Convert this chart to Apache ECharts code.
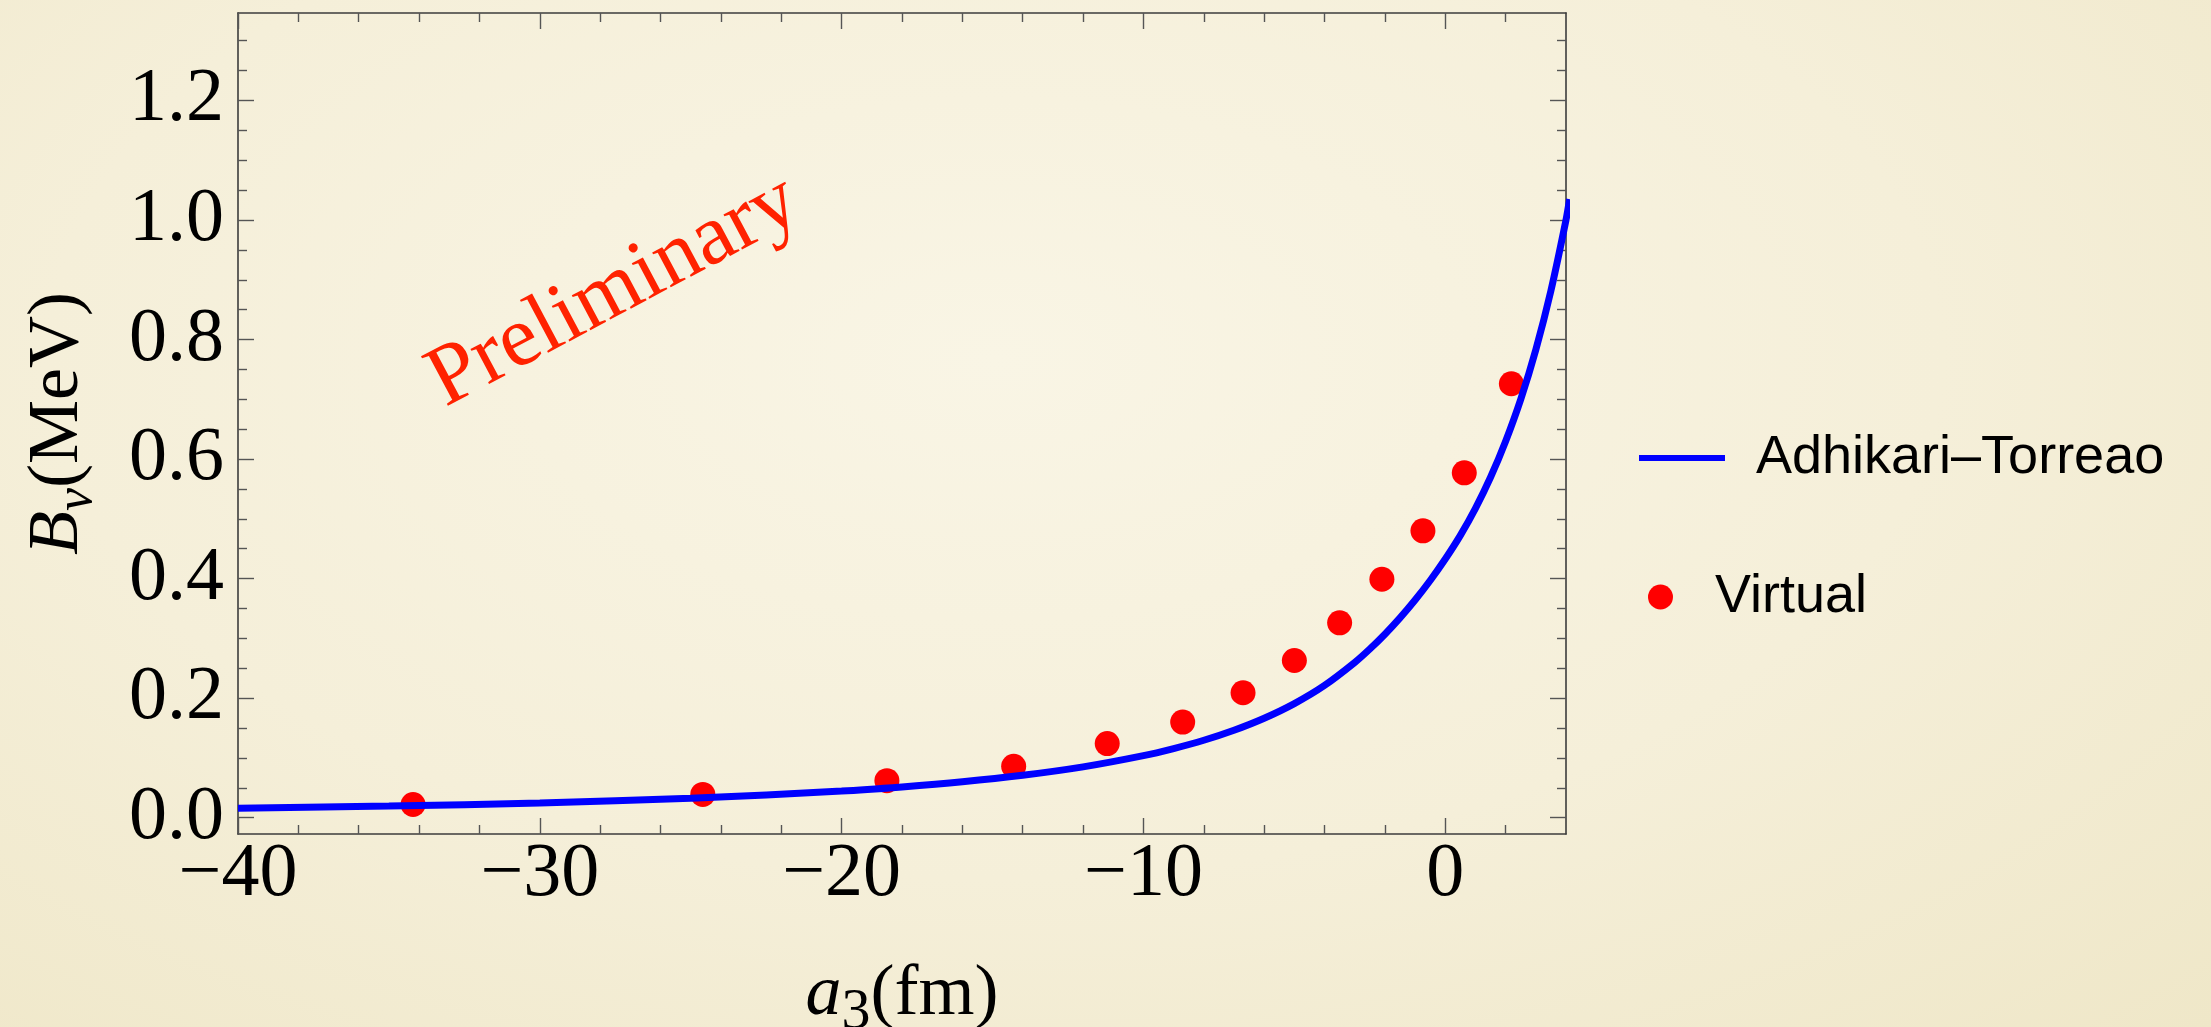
<!DOCTYPE html>
<html>
<head>
<meta charset="utf-8">
<title>B_v vs a_3</title>
<script src="https://cdn.jsdelivr.net/npm/echarts@6/dist/echarts.min.js"></script>
<style>
  html, body {
    margin: 0;
    padding: 0;
    width: 2211px;
    height: 1027px;
    overflow: hidden;
    background: radial-gradient(ellipse at 45% 35%, #f9f5e5 0%, #f5efd9 55%, #efe7c8 100%);
  }
  #chart {
    width: 2211px;
    height: 1027px;
  }
</style>
</head>
<body>
<div id="chart"></div>
<script>
// Adhikari–Torreao curve
const curveX = [-40, -35, -30, -25, -20, -18, -16, -14, -12, -10, -9, -8, -7, -6, -5, -4, -3, -2.5, -2, -1.5, -1, -0.5, 0, 0.5, 1, 1.5, 2, 2.5, 3, 3.5, 4, 4.12]
const curveY = [0.0157, 0.0194, 0.0247, 0.0325, 0.0446, 0.0515, 0.060, 0.0709, 0.085, 0.1038, 0.1157, 0.1296, 0.1463, 0.1664, 0.1909, 0.2213, 0.2597, 0.2822, 0.307, 0.3343, 0.3642, 0.3969, 0.4328, 0.4724, 0.5176, 0.5696, 0.630, 0.700, 0.783, 0.8817, 1.0, 1.035]

// Virtual points
const virtualX = [-34.2, -24.6, -18.5, -14.3, -11.2, -8.7, -6.7, -5.0, -3.5, -2.1, -0.74, 0.63, 2.19]
const virtualY = [0.022, 0.039, 0.062, 0.086, 0.124, 0.160, 0.209, 0.263, 0.326, 0.399, 0.480, 0.577, 0.726]

// ticks
const xMajor = [-40, -30, -20, -10, 0]
const xMinor = [-38, -36, -34, -32, -28, -26, -24, -22, -18, -16, -14, -12, -8, -6, -4, -2, 2]
const yMajor = [0, 0.2, 0.4, 0.6, 0.8, 1.0, 1.2]
const yMinor = [0.05, 0.1, 0.15, 0.25, 0.3, 0.35, 0.45, 0.5, 0.55, 0.65, 0.7, 0.75, 0.85, 0.9, 0.95, 1.05, 1.1, 1.15, 1.25, 1.3]

const frameColor = '#3c3c3c'
const tickColor = '#555'
const serif = '"Liberation Serif", "Times New Roman", serif'
const sans = '"Liberation Sans", Arial, sans-serif'

const xRange = { min: -40, max: 4 }
const yRange = { min: -0.0273, max: 1.3464 }

function xAxisDef(position, ticks, len, withLine, withLabel) {
  return {
    type: 'value',
    position: position,
    min: xRange.min,
    max: xRange.max,
    splitLine: { show: false },
    axisLine: { show: withLine, onZero: false, lineStyle: { color: frameColor, width: 1.6 } },
    axisTick: { show: true, inside: true, length: len, customValues: ticks, lineStyle: { color: tickColor, width: 1.4 } },
    axisLabel: withLabel ? {
      show: true,
      customValues: xMajor,
      margin: 3,
      color: '#000',
      fontFamily: serif,
      fontSize: 76,
      formatter: v => (v < 0 ? '\u2212' + Math.abs(v) : String(v))
    } : { show: false }
  }
}

function yAxisDef(position, ticks, len, withLine, withLabel) {
  return {
    type: 'value',
    position: position,
    min: yRange.min,
    max: yRange.max,
    splitLine: { show: false },
    axisLine: { show: withLine, onZero: false, lineStyle: { color: frameColor, width: 1.6 } },
    axisTick: { show: true, inside: true, length: len, customValues: ticks, lineStyle: { color: tickColor, width: 1.4 } },
    axisLabel: withLabel ? {
      show: true,
      customValues: yMajor,
      margin: 14,
      color: '#000',
      fontFamily: serif,
      fontSize: 76,
      padding: [0, 0, 10, 0],
      formatter: v => v.toFixed(1)
    } : { show: false }
  }
}

const bottomMajor = xAxisDef('bottom', xMajor, 16, true, true)
bottomMajor.name = '{i|a}{s|3}{n|(fm)}'
bottomMajor.nameLocation = 'middle'
bottomMajor.nameGap = 114
bottomMajor.nameTextStyle = {
  color: '#000',
  rich: {
    i: { fontFamily: serif, fontStyle: 'italic', fontSize: 72, lineHeight: 94, color: '#000' },
    s: { fontFamily: serif, fontSize: 58, lineHeight: 58, verticalAlign: 'bottom', color: '#000' },
    n: { fontFamily: serif, fontSize: 72, lineHeight: 94, color: '#000' }
  }
}

const leftMajor = yAxisDef('left', yMajor, 16, true, true)
leftMajor.name = '{i|B}{s|v}{n|(MeV)}'
leftMajor.nameLocation = 'middle'
leftMajor.nameGap = 135
leftMajor.nameTextStyle = {
  color: '#000',
  rich: {
    i: { fontFamily: serif, fontStyle: 'italic', fontSize: 72, lineHeight: 90, color: '#000' },
    s: { fontFamily: serif, fontStyle: 'italic', fontSize: 52, lineHeight: 52, verticalAlign: 'bottom', color: '#000' },
    n: { fontFamily: serif, fontSize: 72, lineHeight: 90, color: '#000' }
  }
}

const chart = echarts.init(document.getElementById('chart'))
chart.setOption({
  animation: false,
  backgroundColor: 'transparent',
  grid: { left: 238, top: 13, right: 645, bottom: 193, containLabel: false, outerBoundsMode: 'none' },
  xAxis: [
    bottomMajor,
    xAxisDef('bottom', xMinor, 9, false, false),
    xAxisDef('top', xMajor, 16, true, false),
    xAxisDef('top', xMinor, 9, false, false)
  ],
  yAxis: [
    leftMajor,
    yAxisDef('left', yMinor, 9, false, false),
    yAxisDef('right', yMajor, 16, true, false),
    yAxisDef('right', yMinor, 9, false, false)
  ],
  legend: [
    {
      data: [{ name: 'Adhikari\u2013Torreao', icon: 'rect' }],
      left: 1634,
      top: 426,
      itemWidth: 86,
      itemHeight: 6,
      selectedMode: false,
      textStyle: { fontFamily: sans, fontSize: 54, color: '#000', padding: [0, 0, 0, 26] }
    },
    {
      data: [{ name: 'Virtual', icon: 'circle' }],
      left: 1643,
      top: 565,
      itemWidth: 25,
      itemHeight: 25,
      selectedMode: false,
      textStyle: { fontFamily: sans, fontSize: 54, color: '#000', padding: [0, 0, 0, 37] }
    }
  ],
  graphic: [
    {
      type: 'text',
      x: 614,
      y: 292,
      rotation: 28 * Math.PI / 180,
      style: {
        text: 'Preliminary',
        font: '86px "Liberation Serif", "Times New Roman", serif',
        fill: '#ff2200',
        align: 'center',
        verticalAlign: 'middle'
      }
    }
  ],
  series: [
    {
      name: 'Adhikari\u2013Torreao',
      type: 'line',
      data: curveX.map((x, i) => [x, curveY[i]]),
      smooth: 0.3,
      showSymbol: false,
      symbol: 'none',
      clip: false,
      color: '#0000ff',
      lineStyle: { color: '#0000ff', width: 7 }
    },
    {
      name: 'Virtual',
      type: 'scatter',
      data: virtualX.map((x, i) => [x, virtualY[i]]),
      symbolSize: 25,
      color: '#ff0000',
      itemStyle: { color: '#ff0000', opacity: 1 }
    }
  ]
})
</script>
</body>
</html>
